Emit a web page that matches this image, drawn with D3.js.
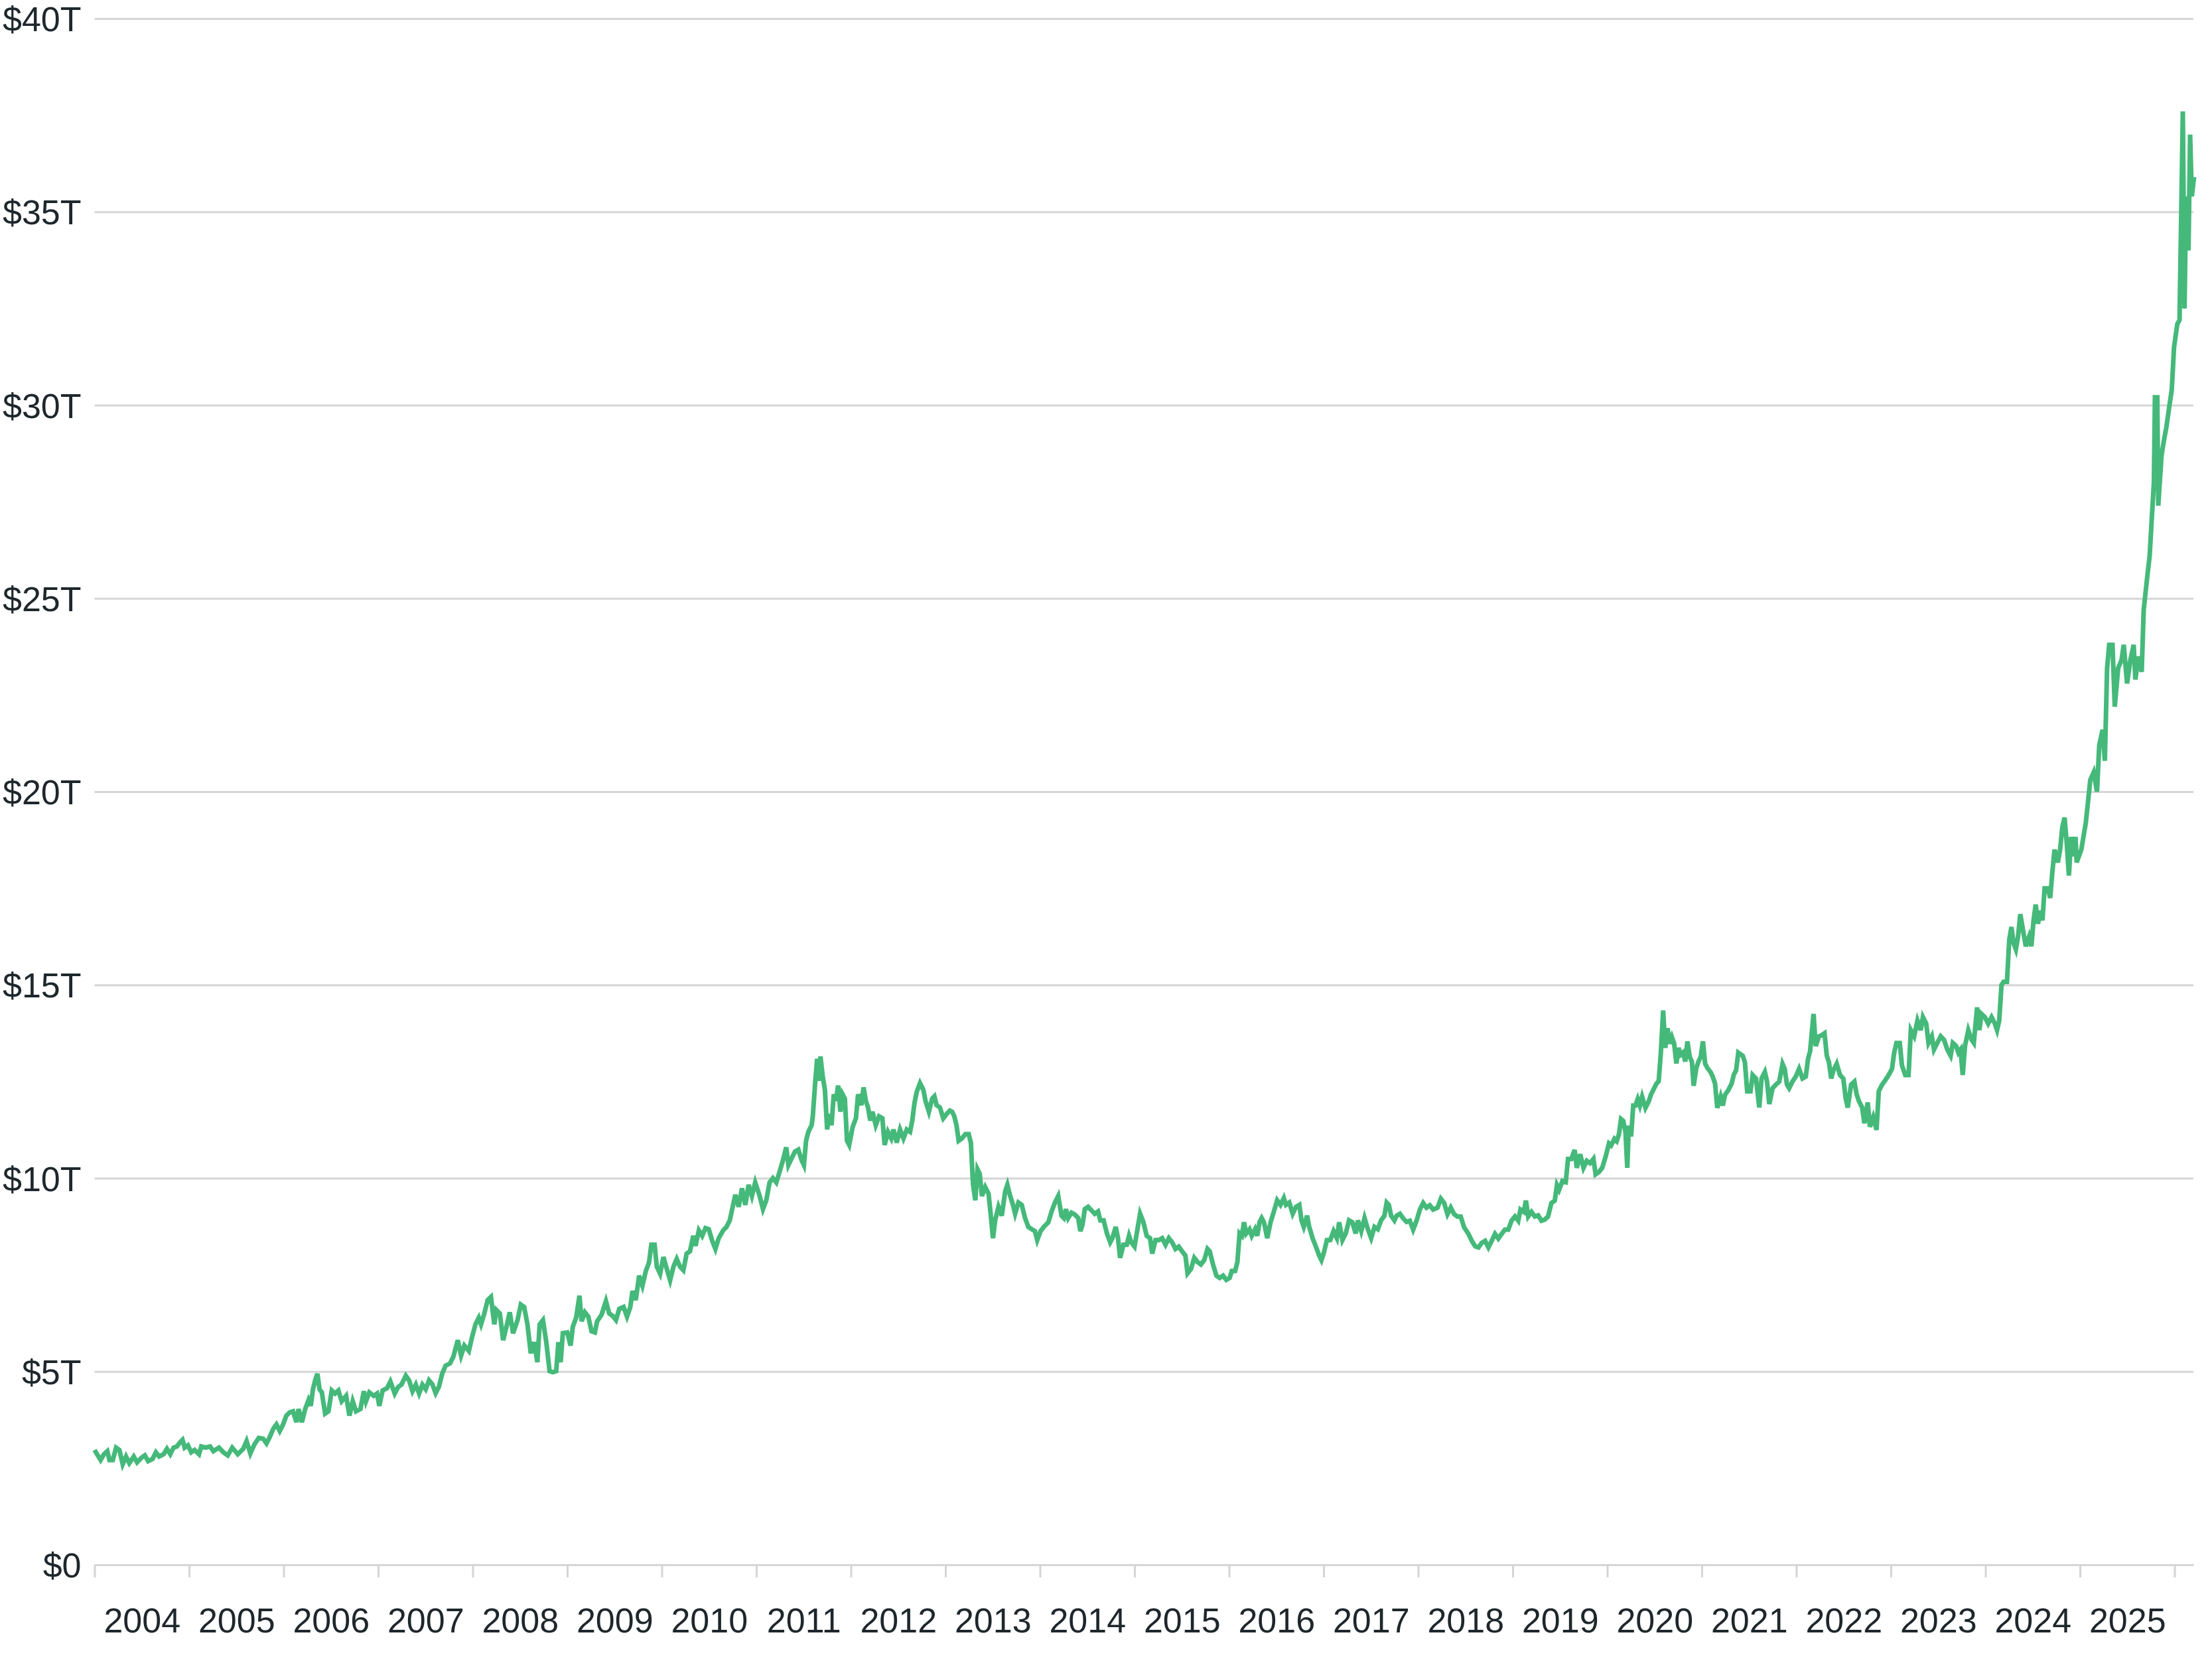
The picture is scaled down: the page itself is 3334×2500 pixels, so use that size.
<!DOCTYPE html>
<html>
<head>
<meta charset="utf-8">
<script src="https://cdn.jsdelivr.net/npm/d3@7"></script>
<style>
  html, body { margin: 0; padding: 0; background: #fff; }
  svg text { font-family: "Liberation Sans", Arial, sans-serif; fill: #1e272b; }
</style>
</head>
<body>
<div id="chart"></div>
<script>
/** Data: [decimal year, market cap in $T] **/
const cap2004to2007 = [
  [2004.000, 2.97], [2004.029, 2.85], [2004.064, 2.71], [2004.099, 2.86], [2004.135, 2.94],
  [2004.158, 2.71], [2004.193, 2.71], [2004.228, 3.03], [2004.263, 2.97], [2004.298, 2.60],
  [2004.333, 2.80], [2004.368, 2.63], [2004.415, 2.80], [2004.450, 2.65], [2004.497, 2.77],
  [2004.532, 2.83], [2004.567, 2.68], [2004.614, 2.74], [2004.649, 2.91], [2004.684, 2.80],
  [2004.731, 2.86], [2004.766, 3.00], [2004.801, 2.86], [2004.836, 3.03], [2004.871, 3.06],
  [2004.906, 3.17], [2004.930, 3.23], [2004.953, 3.03], [2004.988, 3.09], [2005.023, 2.91],
  [2005.058, 2.97], [2005.105, 2.86], [2005.129, 3.06], [2005.175, 3.03], [2005.222, 3.06],
  [2005.257, 2.94], [2005.316, 3.03], [2005.363, 2.91], [2005.409, 2.83], [2005.456, 3.03],
  [2005.515, 2.86], [2005.573, 3.00], [2005.608, 3.20], [2005.648, 2.88], [2005.690, 3.11],
  [2005.737, 3.28], [2005.784, 3.26], [2005.819, 3.14], [2005.854, 3.31], [2005.889, 3.51],
  [2005.924, 3.63], [2005.959, 3.46], [2005.994, 3.63], [2006.029, 3.86], [2006.064, 3.94],
  [2006.099, 3.97], [2006.135, 3.69], [2006.158, 4.03], [2006.193, 3.69], [2006.228, 4.03],
  [2006.263, 4.26], [2006.287, 4.11], [2006.310, 4.54], [2006.333, 4.77], [2006.357, 4.94],
  [2006.380, 4.54], [2006.404, 4.46], [2006.439, 3.91], [2006.474, 3.97], [2006.509, 4.51],
  [2006.544, 4.43], [2006.579, 4.51], [2006.614, 4.23], [2006.661, 4.37], [2006.696, 3.86],
  [2006.731, 4.23], [2006.766, 3.97], [2006.813, 4.03], [2006.848, 4.49], [2006.871, 4.23],
  [2006.906, 4.46], [2006.953, 4.37], [2006.988, 4.43], [2007.012, 4.11], [2007.047, 4.51],
  [2007.094, 4.57], [2007.129, 4.74], [2007.175, 4.43], [2007.211, 4.60], [2007.246, 4.66],
  [2007.292, 4.89], [2007.327, 4.77], [2007.363, 4.49], [2007.398, 4.66], [2007.433, 4.43],
  [2007.468, 4.66], [2007.503, 4.54], [2007.538, 4.77]
];
const cap2007to2010 = [
  [2007.573, 4.67], [2007.608, 4.44], [2007.643, 4.61], [2007.678, 4.95], [2007.713, 5.15],
  [2007.760, 5.21], [2007.795, 5.38], [2007.842, 5.81], [2007.877, 5.41], [2007.912, 5.67],
  [2007.959, 5.53], [2007.994, 5.90], [2008.029, 6.22], [2008.064, 6.39], [2008.088, 6.22],
  [2008.123, 6.50], [2008.158, 6.85], [2008.193, 6.93], [2008.228, 6.22], [2008.251, 6.59],
  [2008.287, 6.50], [2008.322, 5.81], [2008.357, 6.16], [2008.392, 6.53], [2008.427, 5.99],
  [2008.474, 6.33], [2008.509, 6.73], [2008.544, 6.67], [2008.579, 6.22], [2008.614, 5.47],
  [2008.649, 5.76], [2008.684, 5.24], [2008.708, 6.22], [2008.743, 6.33], [2008.778, 5.76],
  [2008.813, 5.01], [2008.848, 4.98], [2008.883, 5.01], [2008.906, 5.76], [2008.930, 5.24],
  [2008.953, 5.99], [2009.000, 6.01], [2009.035, 5.67], [2009.059, 6.16], [2009.094, 6.39],
  [2009.129, 6.96], [2009.152, 6.30], [2009.187, 6.53], [2009.222, 6.42], [2009.257, 6.04],
  [2009.292, 6.01], [2009.316, 6.30], [2009.363, 6.47], [2009.409, 6.82], [2009.444, 6.50],
  [2009.480, 6.44], [2009.515, 6.33], [2009.550, 6.62], [2009.596, 6.67], [2009.632, 6.42],
  [2009.667, 6.67], [2009.690, 7.08], [2009.725, 6.85], [2009.760, 7.48], [2009.795, 7.22],
  [2009.830, 7.59], [2009.865, 7.82], [2009.889, 8.28], [2009.924, 8.28], [2009.947, 7.71],
  [2009.982, 7.53], [2010.017, 7.96], [2010.053, 7.65], [2010.088, 7.36], [2010.123, 7.71],
  [2010.158, 7.91], [2010.193, 7.71], [2010.228, 7.62], [2010.263, 8.05], [2010.298, 8.11],
  [2010.333, 8.51], [2010.357, 8.25], [2010.392, 8.65], [2010.427, 8.51], [2010.462, 8.71],
  [2010.497, 8.68], [2010.532, 8.39], [2010.567, 8.17], [2010.602, 8.45], [2010.649, 8.65],
  [2010.684, 8.74], [2010.719, 8.91], [2010.754, 9.31], [2010.778, 9.57]
];
const cap2010to2014 = [
  [2010.813, 9.26], [2010.848, 9.74], [2010.883, 9.31], [2010.918, 9.83], [2010.953, 9.54],
  [2010.988, 9.89], [2011.035, 9.54], [2011.070, 9.20], [2011.105, 9.43], [2011.140, 9.89],
  [2011.175, 10.00], [2011.211, 9.89], [2011.246, 10.17], [2011.281, 10.46], [2011.316, 10.80],
  [2011.339, 10.34], [2011.374, 10.52], [2011.409, 10.69], [2011.444, 10.74], [2011.480, 10.46],
  [2011.503, 10.34], [2011.526, 10.97], [2011.550, 11.20], [2011.585, 11.37], [2011.597, 11.60],
  [2011.620, 12.40], [2011.643, 13.09], [2011.667, 12.52], [2011.678, 13.15], [2011.702, 12.63],
  [2011.725, 12.29], [2011.749, 11.26], [2011.772, 11.66], [2011.795, 11.37], [2011.819, 12.17],
  [2011.842, 12.00], [2011.865, 12.40], [2011.889, 11.72], [2011.912, 12.17], [2011.936, 12.06],
  [2011.959, 10.97], [2011.982, 10.86], [2012.018, 11.32], [2012.053, 11.55], [2012.076, 12.17],
  [2012.111, 11.89], [2012.134, 12.35], [2012.158, 12.00], [2012.181, 11.83], [2012.205, 11.49],
  [2012.228, 11.72], [2012.263, 11.37], [2012.298, 11.60], [2012.333, 11.55], [2012.357, 10.86],
  [2012.392, 11.20], [2012.427, 11.03], [2012.450, 11.26], [2012.485, 10.92], [2012.520, 11.26],
  [2012.556, 11.03], [2012.591, 11.26], [2012.626, 11.20], [2012.649, 11.49], [2012.673, 11.95],
  [2012.696, 12.23], [2012.731, 12.46], [2012.766, 12.29], [2012.789, 12.00], [2012.825, 11.72],
  [2012.860, 12.06], [2012.883, 12.12], [2012.906, 11.89], [2012.942, 11.83], [2012.977, 11.55],
  [2013.012, 11.66], [2013.047, 11.75], [2013.070, 11.72], [2013.094, 11.60], [2013.117, 11.37],
  [2013.140, 10.97], [2013.175, 11.03], [2013.211, 11.14], [2013.246, 11.14], [2013.269, 10.92],
  [2013.292, 9.83], [2013.316, 9.43], [2013.339, 10.23], [2013.363, 10.11], [2013.386, 9.54],
  [2013.421, 9.77], [2013.456, 9.60], [2013.480, 9.03], [2013.503, 8.45], [2013.526, 8.91],
  [2013.561, 9.26], [2013.596, 9.03], [2013.632, 9.66], [2013.655, 9.83], [2013.678, 9.60],
  [2013.714, 9.31], [2013.737, 9.08], [2013.772, 9.37], [2013.807, 9.31], [2013.842, 8.97],
  [2013.877, 8.74], [2013.912, 8.68], [2013.947, 8.63], [2013.971, 8.40], [2014.006, 8.63],
  [2014.041, 8.74], [2014.088, 8.86], [2014.123, 9.14], [2014.158, 9.37], [2014.193, 9.54],
  [2014.228, 9.03]
];
const cap2014to2017 = [
  [2014.252, 8.97], [2014.275, 9.20], [2014.298, 8.97], [2014.333, 9.11], [2014.369, 9.06],
  [2014.404, 8.97], [2014.427, 8.63], [2014.450, 8.80], [2014.474, 9.20], [2014.509, 9.26],
  [2014.544, 9.17], [2014.579, 9.08], [2014.614, 9.14], [2014.638, 8.91], [2014.673, 8.91],
  [2014.708, 8.57], [2014.743, 8.34], [2014.766, 8.45], [2014.801, 8.74], [2014.825, 8.45],
  [2014.848, 7.94], [2014.883, 8.28], [2014.918, 8.28], [2014.942, 8.51], [2014.965, 8.34],
  [2015.000, 8.23], [2015.035, 8.74], [2015.059, 9.08], [2015.094, 8.86], [2015.129, 8.51],
  [2015.164, 8.45], [2015.187, 8.05], [2015.222, 8.40], [2015.257, 8.40], [2015.292, 8.45],
  [2015.328, 8.28], [2015.363, 8.45], [2015.398, 8.34], [2015.433, 8.17], [2015.468, 8.23],
  [2015.503, 8.11], [2015.538, 8.00], [2015.561, 7.54], [2015.597, 7.65], [2015.632, 7.94],
  [2015.667, 7.83], [2015.702, 7.77], [2015.737, 7.88], [2015.772, 8.17], [2015.795, 8.11],
  [2015.830, 7.77], [2015.866, 7.48], [2015.901, 7.42], [2015.936, 7.48], [2015.971, 7.37],
  [2016.006, 7.42], [2016.029, 7.60], [2016.064, 7.60], [2016.088, 7.83], [2016.111, 8.57],
  [2016.135, 8.51], [2016.158, 8.86], [2016.181, 8.57], [2016.216, 8.68], [2016.240, 8.51],
  [2016.275, 8.68], [2016.298, 8.51], [2016.322, 8.86], [2016.345, 8.97], [2016.369, 8.86],
  [2016.404, 8.45], [2016.439, 8.86], [2016.474, 9.14], [2016.509, 9.43], [2016.544, 9.31],
  [2016.579, 9.49], [2016.602, 9.31], [2016.637, 9.37], [2016.673, 9.08], [2016.708, 9.26],
  [2016.743, 9.31], [2016.766, 8.91], [2016.790, 8.74], [2016.825, 9.03], [2016.848, 8.74],
  [2016.883, 8.45], [2016.918, 8.23], [2016.953, 8.00], [2016.977, 7.88], [2017.000, 8.05],
  [2017.035, 8.40], [2017.070, 8.40], [2017.105, 8.63], [2017.140, 8.45], [2017.164, 8.86],
  [2017.199, 8.40], [2017.234, 8.57], [2017.269, 8.91], [2017.304, 8.86], [2017.339, 8.57],
  [2017.363, 8.91], [2017.398, 8.63], [2017.433, 8.97], [2017.468, 8.68], [2017.503, 8.45],
  [2017.538, 8.74], [2017.573, 8.68], [2017.608, 8.91], [2017.643, 9.03], [2017.667, 9.37],
  [2017.690, 9.31], [2017.714, 9.03], [2017.749, 8.91], [2017.772, 9.03], [2017.807, 9.08]
];
const cap2017to2021 = [
  [2017.842, 8.96], [2017.877, 8.87], [2017.912, 8.90], [2017.947, 8.67], [2017.983, 8.90],
  [2018.018, 9.19], [2018.053, 9.36], [2018.088, 9.24], [2018.123, 9.30], [2018.158, 9.19],
  [2018.205, 9.24], [2018.240, 9.47], [2018.275, 9.36], [2018.310, 9.07], [2018.345, 9.24],
  [2018.380, 9.07], [2018.415, 9.01], [2018.450, 9.01], [2018.486, 8.73], [2018.532, 8.56],
  [2018.567, 8.38], [2018.603, 8.24], [2018.638, 8.21], [2018.673, 8.33], [2018.708, 8.38],
  [2018.743, 8.21], [2018.778, 8.38], [2018.813, 8.56], [2018.848, 8.44], [2018.883, 8.56],
  [2018.918, 8.67], [2018.953, 8.67], [2018.988, 8.90], [2019.024, 9.01], [2019.059, 8.90],
  [2019.082, 9.19], [2019.117, 9.13], [2019.140, 9.42], [2019.164, 9.01], [2019.199, 9.13],
  [2019.234, 9.01], [2019.269, 9.04], [2019.304, 8.90], [2019.339, 8.93], [2019.374, 9.01],
  [2019.409, 9.36], [2019.445, 9.42], [2019.468, 9.82], [2019.491, 9.70], [2019.526, 9.93],
  [2019.561, 9.90], [2019.585, 10.50], [2019.620, 10.50], [2019.655, 10.73], [2019.678, 10.27],
  [2019.714, 10.62], [2019.749, 10.27], [2019.784, 10.45], [2019.819, 10.39], [2019.854, 10.50],
  [2019.877, 10.10], [2019.912, 10.16], [2019.947, 10.27], [2019.983, 10.56], [2020.018, 10.90],
  [2020.041, 10.85], [2020.076, 11.02], [2020.100, 10.96], [2020.123, 11.13], [2020.146, 11.53],
  [2020.170, 11.48], [2020.193, 11.19], [2020.212, 10.27], [2020.228, 11.36], [2020.252, 11.08],
  [2020.275, 11.88], [2020.298, 11.88], [2020.322, 12.05], [2020.345, 11.88], [2020.369, 12.11],
  [2020.404, 11.82], [2020.439, 11.99], [2020.462, 12.16], [2020.486, 12.28], [2020.521, 12.45],
  [2020.544, 12.51], [2020.567, 13.25], [2020.591, 14.34], [2020.614, 13.37], [2020.638, 13.88],
  [2020.661, 13.48], [2020.684, 13.65], [2020.708, 13.48], [2020.731, 12.97], [2020.754, 13.37],
  [2020.778, 13.20], [2020.801, 13.25], [2020.825, 13.02], [2020.848, 13.54], [2020.872, 13.14],
  [2020.895, 13.02], [2020.914, 12.39], [2020.942, 12.85], [2020.965, 13.02], [2020.989, 13.14],
  [2021.012, 13.54], [2021.035, 12.97], [2021.059, 12.85], [2021.094, 12.74], [2021.117, 12.62],
  [2021.140, 12.45], [2021.164, 11.82], [2021.199, 12.11], [2021.222, 11.88], [2021.246, 12.16],
  [2021.281, 12.28], [2021.316, 12.45], [2021.339, 12.68], [2021.363, 12.79], [2021.386, 13.25]
];
const cap2021to2024 = [
  [2021.410, 13.21], [2021.433, 13.17], [2021.456, 13.00], [2021.480, 12.25], [2021.515, 12.25],
  [2021.538, 12.67], [2021.573, 12.58], [2021.608, 11.83], [2021.632, 12.58], [2021.667, 12.75],
  [2021.690, 12.50], [2021.714, 11.92], [2021.749, 12.33], [2021.784, 12.42], [2021.819, 12.50],
  [2021.854, 12.96], [2021.877, 12.83], [2021.901, 12.42], [2021.924, 12.33], [2021.959, 12.50],
  [2021.994, 12.63], [2022.029, 12.83], [2022.065, 12.58], [2022.100, 12.63], [2022.123, 13.08],
  [2022.146, 13.29], [2022.163, 13.75], [2022.182, 14.25], [2022.205, 13.42], [2022.240, 13.67],
  [2022.275, 13.71], [2022.298, 13.75], [2022.322, 13.17], [2022.345, 13.00], [2022.369, 12.58],
  [2022.392, 12.79], [2022.427, 12.96], [2022.462, 12.67], [2022.497, 12.58], [2022.521, 12.08],
  [2022.544, 11.83], [2022.579, 12.42], [2022.614, 12.50], [2022.638, 12.17], [2022.661, 12.00],
  [2022.696, 11.83], [2022.720, 11.42], [2022.755, 11.96], [2022.778, 11.33], [2022.813, 11.58],
  [2022.848, 11.25], [2022.872, 12.25], [2022.907, 12.42], [2022.942, 12.54], [2022.977, 12.67],
  [2023.012, 12.83], [2023.035, 13.25], [2023.059, 13.50], [2023.094, 13.50], [2023.117, 12.92],
  [2023.152, 12.67], [2023.187, 12.67], [2023.211, 13.83], [2023.246, 13.67], [2023.281, 14.08],
  [2023.316, 13.83], [2023.339, 14.17], [2023.374, 14.00], [2023.398, 13.50], [2023.433, 13.67],
  [2023.456, 13.33], [2023.491, 13.50], [2023.527, 13.67], [2023.562, 13.58], [2023.597, 13.33],
  [2023.632, 13.17], [2023.655, 13.50], [2023.690, 13.42], [2023.714, 13.25], [2023.737, 13.33],
  [2023.760, 12.67], [2023.784, 13.42], [2023.819, 13.83], [2023.854, 13.58], [2023.877, 13.50],
  [2023.912, 14.42], [2023.936, 13.83], [2023.959, 14.25], [2023.994, 14.17], [2024.029, 14.00],
  [2024.065, 14.17], [2024.100, 14.00], [2024.123, 13.83], [2024.146, 14.08], [2024.170, 15.00],
  [2024.193, 15.08], [2024.228, 15.08], [2024.252, 16.17], [2024.275, 16.50], [2024.298, 16.08],
  [2024.322, 15.92], [2024.345, 16.25], [2024.369, 16.83], [2024.392, 16.50], [2024.427, 16.00],
  [2024.462, 16.25], [2024.486, 16.00], [2024.509, 16.67], [2024.532, 17.08], [2024.556, 16.58],
  [2024.579, 16.92], [2024.603, 16.67], [2024.626, 17.50], [2024.661, 17.50], [2024.685, 17.25],
  [2024.708, 17.92], [2024.731, 18.50], [2024.766, 18.17], [2024.790, 18.50], [2024.813, 19.08],
  [2024.837, 19.33], [2024.860, 18.67], [2024.883, 17.83], [2024.907, 18.83], [2024.930, 18.33],
  [2024.953, 18.83], [2024.965, 18.17]
];
const cap2025to2026 = [
  [2025.014, 18.50], [2025.062, 19.20], [2025.109, 20.30], [2025.145, 20.50], [2025.180, 20.00],
  [2025.204, 21.20], [2025.239, 21.60], [2025.263, 20.80], [2025.287, 23.20], [2025.309, 23.80],
  [2025.344, 23.80], [2025.368, 22.20], [2025.404, 23.20], [2025.439, 23.40], [2025.463, 23.80],
  [2025.498, 22.80], [2025.533, 23.40], [2025.568, 23.80], [2025.586, 22.90], [2025.618, 23.50],
  [2025.653, 23.10], [2025.674, 24.70], [2025.709, 25.50], [2025.737, 26.10], [2025.758, 27.00],
  [2025.782, 28.00], [2025.793, 30.20], [2025.818, 30.20], [2025.828, 27.40], [2025.863, 28.70],
  [2025.889, 29.10], [2025.912, 29.40], [2025.947, 30.00], [2025.971, 30.40], [2025.995, 31.50],
  [2026.030, 32.10], [2026.053, 32.20], [2026.074, 35.40], [2026.088, 37.60], [2026.106, 32.50],
  [2026.123, 35.40], [2026.148, 34.00], [2026.165, 37.00], [2026.183, 35.40], [2026.207, 35.90]
];

const yTicks = [0, 5, 10, 15, 20, 25, 30, 35, 40];
const yearTicks = [2004, 2005, 2006, 2007, 2008, 2009, 2010, 2011, 2012, 2013, 2014, 2015,
  2016, 2017, 2018, 2019, 2020, 2021, 2022, 2023, 2024, 2025, 2026];
const yearLabels = [2004, 2005, 2006, 2007, 2008, 2009, 2010, 2011, 2012, 2013, 2014, 2015,
  2016, 2017, 2018, 2019, 2020, 2021, 2022, 2023, 2024, 2025];

const series = [].concat(cap2004to2007, cap2007to2010, cap2010to2014, cap2014to2017,
  cap2017to2021, cap2021to2024, cap2025to2026);

/** Chart frame **/
const W = 3334;
const H = 2500;
const margin = { top: 28, right: 28, bottom: 142, left: 142.5 };
const width = W - margin.left - margin.right;
const height = H - margin.top - margin.bottom;

const svg = d3
  .select('#chart')
  .append('svg')
  .attr('width', W)
  .attr('height', H)
  .append('g')
  .attr('transform', `translate(${margin.left}, ${margin.top})`);

const x = d3.scaleLinear().domain([2004, 2026.2]).range([0, width]);
const y = d3.scaleLinear().domain([0, 40]).range([height, 0]);

const gridColor = '#d5d5d5';
const fontSize = 52;

/** Y axis with gridlines **/
const yAxis = svg
  .append('g')
  .call(
    d3.axisLeft(y)
      .tickValues(yTicks)
      .tickSize(-width)
      .tickPadding(20)
      .tickFormat((d) => (d === 0 ? '$0' : `$${d}T`))
  );
yAxis.select('.domain').remove();
yAxis.selectAll('line').attr('stroke', gridColor).attr('stroke-width', 3);
yAxis.selectAll('text')
  .attr('font-size', fontSize)
  .attr('dy', '0.36em')
  .style('font-family', '"Liberation Sans", Arial, sans-serif')
  .attr('fill', '#1b2427');

/** X axis: year ticks, labels centred in each year **/
const xAxis = svg
  .append('g')
  .attr('transform', `translate(0, ${height})`)
  .call(d3.axisBottom(x).tickValues(yearTicks).tickSize(19).tickSizeOuter(0).tickFormat(''));
xAxis.select('.domain').attr('stroke', gridColor).attr('stroke-width', 3);
xAxis.selectAll('line').attr('stroke', gridColor).attr('stroke-width', 3);

const xLabels = svg
  .append('g')
  .attr('transform', `translate(0, ${height})`)
  .call(
    d3.axisBottom(x)
      .tickValues(yearLabels.map((d) => d + 0.5))
      .tickSize(0)
      .tickPadding(65)
      .tickFormat((d) => String(Math.floor(d)))
  );
xLabels.select('.domain').remove();
xLabels.selectAll('text')
  .attr('font-size', fontSize)
  .style('font-family', '"Liberation Sans", Arial, sans-serif')
  .attr('fill', '#1b2427');

/** Line **/
const line = d3
  .line()
  .x((d) => x(d[0]))
  .y((d) => y(d[1]));

svg
  .append('path')
  .datum(series)
  .attr('fill', 'none')
  .attr('stroke', '#45b97a')
  .attr('stroke-width', 7)
  .attr('d', line);
</script>
</body>
</html>
